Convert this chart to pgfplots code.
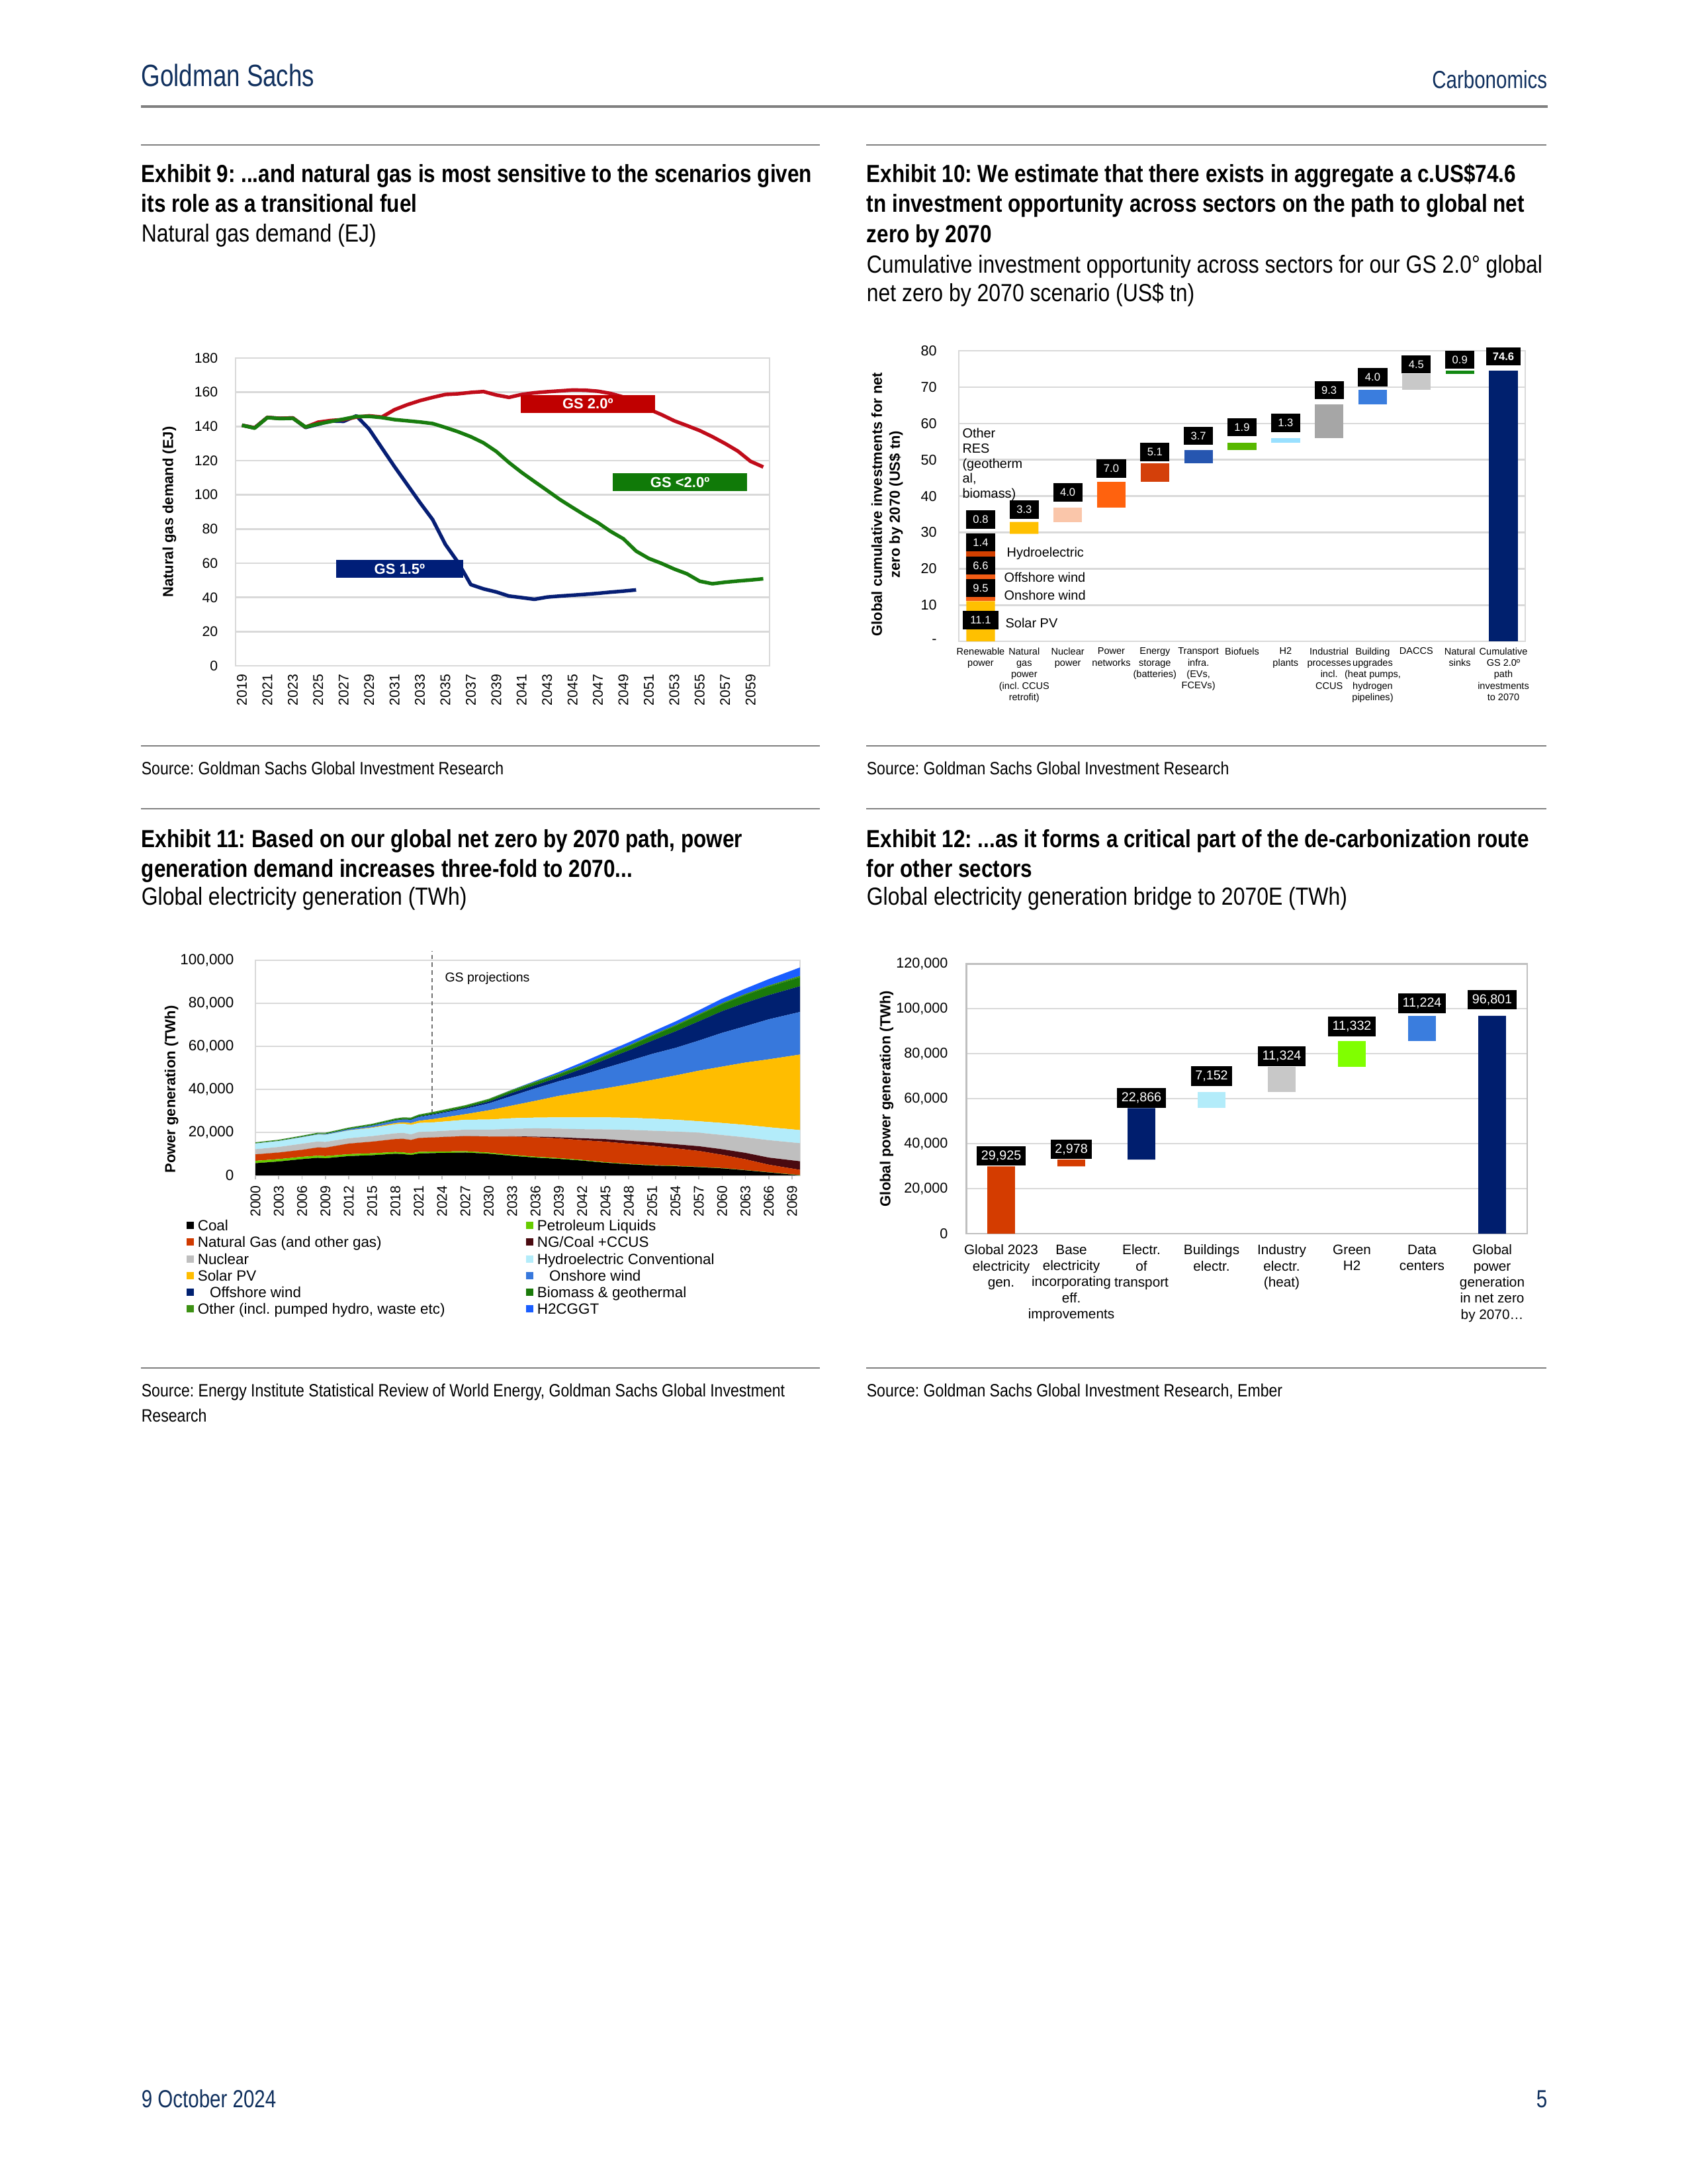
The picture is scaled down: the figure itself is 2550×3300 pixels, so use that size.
\documentclass[border=0pt]{standalone}
\usepackage{fontspec}
\setmainfont{Liberation Sans}
\newfontfamily\gsfont{Liberation Sans}[FakeStretch=0.855]
\newfontfamily\gsbfont{Liberation Sans}[FakeStretch=0.843]
\newfontfamily\hdfont{Liberation Sans}[FakeStretch=0.79]
\usepackage{pgfplots}
\usepackage{pgfplotstable}
\pgfplotsset{compat=1.18}
\frenchspacing

\definecolor{gsnavy}{RGB}{16,48,94}
\definecolor{rulec}{RGB}{128,128,128}
\definecolor{gridc}{RGB}{217,217,217}
\definecolor{framec}{RGB}{191,191,191}
% exhibit 9
\definecolor{redA}{RGB}{192,12,26}
\definecolor{greenA}{RGB}{24,124,14}
\definecolor{blueA}{RGB}{6,30,116}
\definecolor{redbox}{RGB}{192,0,0}
\definecolor{greenbox}{RGB}{16,122,8}
\definecolor{bluebox}{RGB}{0,30,120}
% exhibit 10
\definecolor{solc}{RGB}{255,192,0}
\definecolor{onwc}{RGB}{242,92,20}
\definecolor{offwc}{RGB}{210,64,0}
\definecolor{hydc}{RGB}{200,60,10}
\definecolor{oresc}{RGB}{230,110,40}
\definecolor{nucc}{RGB}{250,198,170}
\definecolor{pnetc}{RGB}{255,98,14}
\definecolor{storc}{RGB}{212,64,10}
\definecolor{transc}{RGB}{38,86,176}
\definecolor{biofc}{RGB}{88,184,0}
\definecolor{htwoc}{RGB}{153,224,255}
\definecolor{indc}{RGB}{166,166,166}
\definecolor{bldc}{RGB}{58,125,222}
\definecolor{dacc}{RGB}{200,200,200}
\definecolor{sinkc}{RGB}{17,136,17}
\definecolor{cumc}{RGB}{0,32,110}
% exhibit 11
\definecolor{coalc}{RGB}{0,0,0}
\definecolor{petc}{RGB}{102,204,0}
\definecolor{gasc}{RGB}{208,58,0}
\definecolor{ccusc}{RGB}{74,10,16}
\definecolor{nuclc}{RGB}{191,191,191}
\definecolor{hydroc}{RGB}{179,236,250}
\definecolor{solarc}{RGB}{255,189,0}
\definecolor{onshc}{RGB}{55,120,220}
\definecolor{offshc}{RGB}{0,32,112}
\definecolor{bioc}{RGB}{26,122,10}
\definecolor{othc}{RGB}{61,145,20}
\definecolor{htwogc}{RGB}{26,94,255}
% exhibit 12
\definecolor{brorg}{RGB}{212,60,0}
\definecolor{brnavy}{RGB}{0,30,110}
\definecolor{brcyan}{RGB}{179,236,250}
\definecolor{brgrey}{RGB}{200,200,200}
\definecolor{brlime}{RGB}{128,255,0}
\definecolor{brblue}{RGB}{58,125,222}

% Exhibit 9: natural gas demand (EJ)
\pgfplotstableread{
year gsa gsb gsc
2019 140.7 140.7 140.7
2020 139.2 139.2 139.0
2021 145.3 145.3 145.2
2022 144.7 144.7 144.6
2023 145.0 145.0 144.8
2024 139.4 139.6 139.7
2025 141.3 142.5 141.5
2026 143.2 143.5 142.9
2027 143.0 144.0 144.3
2028 146.2 145.5 145.8
2029 138.5 146.2 145.9
2030 127.5 145.5 145.2
2031 116.5 149.8 144.0
2032 106.0 152.7 143.3
2033 95.5 155.1 142.6
2034 85.5 157.0 141.7
2035 71.0 158.7 139.4
2036 60.5 159.1 136.9
2037 47.5 159.9 134.0
2038 45.0 160.4 130.4
2039 43.2 158.4 125.4
2040 40.8 157.0 118.9
2041 39.9 158.7 113.1
2042 38.9 159.7 107.8
2043 40.2 160.3 102.6
2044 40.8 160.8 97.3
2045 41.3 161.3 92.6
2046 41.8 161.2 88.0
2047 42.4 160.6 83.7
2048 43.1 159.3 78.6
2049 43.7 157.2 74.3
2050 44.4 154.5 67.1
2051 nan 150.1 62.8
2052 nan 146.9 59.9
2053 nan 143.3 56.6
2054 nan 140.5 53.8
2055 nan 137.6 49.5
2056 nan 134.0 48.0
2057 nan 130.0 48.9
2058 nan 125.6 49.6
2059 nan 119.6 50.2
2060 nan 116.3 50.9
}\gasdemand

% Exhibit 10: waterfall (US$ tn), base = invisible offset
\pgfplotstableread{
cat base yel onw offw hyd ores nuc pnet stor trans biof htwo ind bld dac sink cum
0 0 11.1 9.5 6.6 1.4 0.8 0 0 0 0 0 0 0 0 0 0 0
1 29.6 3.3 0 0 0 0 0 0 0 0 0 0 0 0 0 0 0
2 32.9 0 0 0 0 0 4.0 0 0 0 0 0 0 0 0 0 0
3 36.9 0 0 0 0 0 0 7.0 0 0 0 0 0 0 0 0 0
4 43.9 0 0 0 0 0 0 0 5.1 0 0 0 0 0 0 0 0
5 49.0 0 0 0 0 0 0 0 0 3.7 0 0 0 0 0 0 0
6 52.7 0 0 0 0 0 0 0 0 0 1.9 0 0 0 0 0 0
7 54.6 0 0 0 0 0 0 0 0 0 0 1.3 0 0 0 0 0
8 55.9 0 0 0 0 0 0 0 0 0 0 0 9.3 0 0 0 0
9 65.2 0 0 0 0 0 0 0 0 0 0 0 0 4.0 0 0 0
10 69.2 0 0 0 0 0 0 0 0 0 0 0 0 0 4.5 0 0
11 73.7 0 0 0 0 0 0 0 0 0 0 0 0 0 0 0.9 0
12 0 0 0 0 0 0 0 0 0 0 0 0 0 0 0 0 74.6
}\invest

% Exhibit 11: generation by source (TWh)
\pgfplotstableread{
year coal pet gas ccus nuc hyd sol onw off bio oth htwo
2000 5700 1100 3000 0 2400 2650 0 30 0 220 300 0
2003 6500 1100 3050 0 2600 2750 0 60 0 240 300 0
2006 7600 1050 3250 0 2850 3000 10 140 0 300 300 0
2008 8200 1000 3800 0 2800 3200 20 180 0 350 300 0
2009 8000 1000 3900 0 2700 3300 20 280 10 340 300 0
2012 9000 900 4900 0 2500 3600 100 500 20 430 300 0
2015 9400 900 5400 0 2600 3800 250 800 50 500 300 0
2018 10100 800 6000 0 2700 4200 550 1150 70 630 300 0
2019 9900 800 6300 0 2800 4200 700 1250 100 650 300 0
2020 9500 750 6250 0 2600 4400 850 1450 100 700 300 0
2021 10200 750 6450 0 2800 4200 1000 1700 200 700 300 0
2023 10400 700 6600 0 2800 4200 1600 2000 300 700 350 0
2027 10650 600 7050 0 3000 4600 2600 2500 500 800 350 0
2030 10100 500 7500 0 3200 4700 4300 3200 850 900 350 0
2033 9100 450 8550 100 3500 4900 5900 4500 1400 1000 400 100
2036 8300 400 9050 300 3850 5000 7800 5800 1500 1200 400 400
2039 7700 350 9150 550 4000 5250 10000 6800 1800 1300 400 800
2042 6900 300 9200 900 4200 5500 11800 7900 2900 1400 400 1200
2045 5900 250 9550 1200 4500 5600 13500 9500 3900 1600 400 1400
2048 5200 200 9300 1400 5100 5600 15600 10800 4950 1900 400 1450
2051 4600 200 9000 1600 5400 5600 18000 12100 6150 2200 450 1500
2054 4300 200 8100 1900 5900 5500 20600 12800 7700 2500 450 1650
2057 3850 150 7400 2200 6300 5300 23500 14000 8950 2900 450 1800
2060 3300 150 6150 2600 6600 5600 26200 15700 10100 3200 500 2100
2063 2400 100 5000 3000 7200 5800 29000 16900 10900 3600 500 2500
2066 1400 100 3500 3300 8100 6000 31600 18600 11250 3900 550 3000
2070 50 150 2400 4000 8400 6100 35100 19800 12000 4100 700 3900
}\elec

% Exhibit 12: bridge to 2070E (TWh)
\pgfplotstableread{
cat base org navy cyan grey lime blue
0 0 29925 0 0 0 0 0
1 29925 2978 0 0 0 0 0
2 32903 0 22866 0 0 0 0
3 55769 0 0 7152 0 0 0
4 62921 0 0 0 11324 0 0
5 74245 0 0 0 0 11332 0
6 85577 0 0 0 0 0 11224
7 0 0 96801 0 0 0 0
}\bridge

\tikzset{
  ttl/.style={anchor=base west, inner sep=0, font=\gsbfont\bfseries\fontsize{9}{10.8}\selectfont},
  sub/.style={anchor=base west, inner sep=0, font=\gsfont\fontsize{9}{10.8}\selectfont},
  src/.style={anchor=base west, inner sep=0, font=\gsfont\fontsize{6.5}{8}\selectfont},
  rl/.style={rulec, line width=0.5bp},
  lbl/.style={fill=black, text=white, anchor=south, inner sep=0.4bp,
    minimum height=6.6bp, minimum width=10.6bp, font=\fontsize{4}{4}\selectfont},
  lbw/.style={fill=black, text=white, anchor=south, inner xsep=1.6bp, inner ysep=0pt,
    minimum height=7.1bp, font=\fontsize{4.75}{5}\selectfont},
  gsbox/.style={text=white, minimum height=6.5bp, inner sep=0pt,
    font=\bfseries\fontsize{5.3}{6}\selectfont},
  ann/.style={anchor=west, inner sep=0pt, font=\fontsize{4.8}{5.5}\selectfont},
}
\newcommand{\legitem}[4]{%
  \fill[#3] (#1,#2-5.5) rectangle (#1+11,#2+5.5);
  \node[anchor=base west, inner sep=0pt, font=\fontsize{5.4}{6}\selectfont] at (#1+16,#2+8) {#4};}

\begin{document}
\begin{tikzpicture}
% page frame in 300 dpi pixels, origin top left
\begin{scope}[x=0.24bp, y=-0.24bp]
\fill[white] (0,0) rectangle (2550,3300);
\path[use as bounding box] (0,0) rectangle (2550,3300);

% page header and footer
\node[anchor=base west, inner sep=0, text=gsnavy, font=\hdfont\fontsize{11.2}{13}\selectfont] at (213,130) {Goldman Sachs};
\node[anchor=base east, inner sep=0, text=gsnavy, font=\hdfont\fontsize{9}{11}\selectfont] at (2339,133) {Carbonomics};
\draw[rulec, line width=0.8bp] (213,161) -- (2339,161);
\node[anchor=base west, inner sep=0, text=gsnavy, font=\hdfont\fontsize{9}{11}\selectfont] at (213,3184) {9 October 2024};
\node[anchor=base east, inner sep=0, text=gsnavy, font=\hdfont\fontsize{9}{11}\selectfont] at (2339,3184) {5};

% titles, top row
\draw[rl] (213,219) -- (1239,219);
\draw[rl] (1309,219) -- (2337,219);
\node[ttl] at (213,275) {Exhibit 9: ...and natural gas is most sensitive to the scenarios given};
\node[ttl] at (213,320) {its role as a transitional fuel};
\node[sub] at (213,365) {Natural gas demand (EJ)};
\node[ttl] at (1309,275) {Exhibit 10: We estimate that there exists in aggregate a c.US\$74.6};
\node[ttl] at (1309,320) {tn investment opportunity across sectors on the path to global net};
\node[ttl] at (1309,366) {zero by 2070};
\node[sub] at (1309,412) {Cumulative investment opportunity across sectors for our GS 2.0° global};
\node[sub] at (1309,455) {net zero by 2070 scenario (US\$ tn)};
\draw[rl] (213,1127) -- (1239,1127);
\draw[rl] (1309,1127) -- (2337,1127);
\node[src] at (213,1170) {Source: Goldman Sachs Global Investment Research};
\node[src] at (1309,1170) {Source: Goldman Sachs Global Investment Research};

% titles, bottom row
\draw[rl] (213,1222) -- (1239,1222);
\draw[rl] (1309,1222) -- (2337,1222);
\node[ttl] at (213,1280) {Exhibit 11: Based on our global net zero by 2070 path, power};
\node[ttl] at (213,1325) {generation demand increases three-fold to 2070...};
\node[sub] at (213,1367) {Global electricity generation (TWh)};
\node[ttl] at (1309,1280) {Exhibit 12: ...as it forms a critical part of the de-carbonization route};
\node[ttl] at (1309,1325) {for other sectors};
\node[sub] at (1309,1367) {Global electricity generation bridge to 2070E (TWh)};
\draw[rl] (213,2067) -- (1239,2067);
\draw[rl] (1309,2067) -- (2337,2067);
\node[src] at (213,2110) {Source: Energy Institute Statistical Review of World Energy, Goldman Sachs Global Investment};
\node[src] at (213,2148) {Research};
\node[src] at (1309,2110) {Source: Goldman Sachs Global Investment Research, Ember};

% legend of exhibit 11
\legitem{282}{1851}{coalc}{Coal}
\legitem{795}{1851}{petc}{Petroleum Liquids}
\legitem{282}{1876.5}{gasc}{Natural Gas (and other gas)}
\legitem{795}{1876.5}{ccusc}{NG/Coal +CCUS}
\legitem{282}{1902}{nuclc}{Nuclear}
\legitem{795}{1902}{hydroc}{Hydroelectric Conventional}
\legitem{282}{1927.7}{solarc}{Solar PV}
\legitem{795}{1927.7}{onshc}{\hspace{4.4bp}Onshore wind}
\legitem{282}{1952.7}{offshc}{\hspace{4.4bp}Offshore wind}
\legitem{795}{1952.7}{bioc}{Biomass \& geothermal}
\legitem{282}{1977.7}{othc}{Other (incl. pumped hydro, waste etc)}
\legitem{795}{1977.7}{htwogc}{H2CGGT}
\end{scope}

% ---------------- Exhibit 9 ----------------
\begin{axis}[at={(85.44bp,-129.84bp)}, anchor=north west, scale only axis,
  width=193.7bp, height=111.6bp,
  xmin=2018.5, xmax=2060.5, ymin=0, ymax=180, enlargelimits=false,
  xtick={2019,2021,...,2059},
  xticklabels={2019,2021,2023,2025,2027,2029,2031,2033,2035,2037,2039,2041,2043,2045,2047,2049,2051,2053,2055,2057,2059},
  ytick={0,20,...,180},
  yticklabels={0,20,40,60,80,100,120,140,160,180},
  major tick length=0pt,
  axis line style={draw=gridc, line width=0.6bp},
  ymajorgrids, grid style={draw=gridc, line width=0.6bp},
  tick label style={font=\fontsize{5.1}{6}\selectfont},
  xticklabel style={rotate=90, anchor=east},
  xticklabel shift=-0.4bp, yticklabel shift=2.9bp,
  every axis y label/.style={at={(axis description cs:-0.124,0.5)}, rotate=90,
    anchor=center, font=\bfseries\fontsize{5.3}{6}\selectfont},
  ylabel={Natural gas demand (EJ)},
  clip=false]
\addplot[blueA, line width=1.3bp, line join=round] table[x=year, y=gsa] {\gasdemand};
\addplot[redA, line width=1.3bp, line join=round] table[x=year, y=gsb] {\gasdemand};
\addplot[greenA, line width=1.3bp, line join=round] table[x=year, y=gsc] {\gasdemand};
\node[gsbox, fill=redbox, minimum width=48.6bp] at (axis cs:2046.2,153.2) {GS 2.0º};
\node[gsbox, fill=greenbox, minimum width=48.6bp] at (axis cs:2053.45,107.4) {GS <2.0º};
\node[gsbox, fill=bluebox, minimum width=46bp] at (axis cs:2031.4,56.6) {GS 1.5º};
\end{axis}

% ---------------- Exhibit 10 ----------------
\begin{axis}[at={(347.76bp,-127.2bp)}, anchor=north west, scale only axis,
  width=205.4bp, height=105.4bp,
  ybar stacked, bar width=10.4bp,
  xmin=-0.5, xmax=12.5, ymin=0, ymax=80, enlargelimits=false,
  xtick={0,...,12},
  xticklabels={{Renewable\\power},{Natural\\gas\\power\\(incl. CCUS\\retrofit)},{Nuclear\\power},
    {Power\\networks},{Energy\\storage\\(batteries)},{Transport\\infra.\\(EVs,\\FCEVs)},{Biofuels},
    {H2\\plants},{Industrial\\processes\\incl.\\CCUS},{Building\\upgrades\\(heat pumps,\\hydrogen\\pipelines)},
    {DACCS},{Natural\\sinks},{Cumulative\\GS 2.0º\\path\\investments\\to 2070}},
  ytick={0,10,...,80},
  yticklabels={-,10,20,30,40,50,60,70,80},
  major tick length=0pt,
  axis line style={draw=gridc, line width=0.6bp},
  ymajorgrids, grid style={draw=gridc, line width=0.6bp},
  yticklabel style={font=\fontsize{5.2}{6}\selectfont},
  xticklabel style={align=center, anchor=north, font=\fontsize{3.5}{4.15}\selectfont},
  xticklabel shift=-1.2bp, yticklabel shift=4.5bp,
  every axis y label/.style={at={(axis description cs:-0.1267,0.4715)}, rotate=90,
    anchor=center, align=center, font=\bfseries\fontsize{5.3}{6.5}\selectfont},
  ylabel={Global cumulative investments for net\\zero by 2070 (US\$ tn)},
  clip=false]
\addplot[draw=none, fill=none] table[x=cat, y=base] {\invest};
\addplot[draw=none, fill=solc] table[x=cat, y=yel] {\invest};
\addplot[draw=none, fill=onwc] table[x=cat, y=onw] {\invest};
\addplot[draw=none, fill=offwc] table[x=cat, y=offw] {\invest};
\addplot[draw=none, fill=hydc] table[x=cat, y=hyd] {\invest};
\addplot[draw=none, fill=oresc] table[x=cat, y=ores] {\invest};
\addplot[draw=none, fill=nucc] table[x=cat, y=nuc] {\invest};
\addplot[draw=none, fill=pnetc] table[x=cat, y=pnet] {\invest};
\addplot[draw=none, fill=storc] table[x=cat, y=stor] {\invest};
\addplot[draw=none, fill=transc] table[x=cat, y=trans] {\invest};
\addplot[draw=none, fill=biofc] table[x=cat, y=biof] {\invest};
\addplot[draw=none, fill=htwoc] table[x=cat, y=htwo] {\invest};
\addplot[draw=none, fill=indc] table[x=cat, y=ind] {\invest};
\addplot[draw=none, fill=bldc] table[x=cat, y=bld] {\invest};
\addplot[draw=none, fill=dacc] table[x=cat, y=dac] {\invest};
\addplot[draw=none, fill=sinkc] table[x=cat, y=sink] {\invest};
\addplot[draw=none, fill=cumc] table[x=cat, y=cum] {\invest};
% anchor points for the data labels (drawn after the axis, above the bars)
\coordinate (r1) at (axis cs:0,3.2);
\coordinate (r2) at (axis cs:0,12.0);
\coordinate (r3) at (axis cs:0,18.2);
\coordinate (r4) at (axis cs:0,24.6);
\coordinate (r5) at (axis cs:0,30.9);
\coordinate (c1) at (axis cs:1,33.6);
\coordinate (c2) at (axis cs:2,38.4);
\coordinate (c3) at (axis cs:3,44.9);
\coordinate (c4) at (axis cs:4,49.5);
\coordinate (c5) at (axis cs:5,53.9);
\coordinate (c6) at (axis cs:6,56.3);
\coordinate (c7) at (axis cs:7,57.5);
\coordinate (c8) at (axis cs:8,66.5);
\coordinate (c9) at (axis cs:9,70.1);
\coordinate (c10) at (axis cs:10,73.6);
\coordinate (c11) at (axis cs:11,74.9);
\coordinate (c12) at (axis cs:12,75.8);
% annotations
\node[ann] at (axis cs:0.59,24.2) {Hydroelectric};
\node[ann] at (axis cs:0.53,17.7) {Offshore wind};
\node[ann] at (axis cs:0.53,12.7) {Onshore wind};
\node[ann] at (axis cs:0.56,5.1) {Solar PV};
\node[ann, align=left] at (axis cs:-0.43,48.7) {Other\\RES\\(geotherm\\al,\\biomass)};
\end{axis}
\node[lbl, minimum width=13bp] at (r1) {11.1};
\node[lbl] at (r2) {9.5};
\node[lbl] at (r3) {6.6};
\node[lbl] at (r4) {1.4};
\node[lbl] at (r5) {0.8};
\node[lbl] at (c1) {3.3};
\node[lbl] at (c2) {4.0};
\node[lbl] at (c3) {7.0};
\node[lbl] at (c4) {5.1};
\node[lbl] at (c5) {3.7};
\node[lbl] at (c6) {1.9};
\node[lbl] at (c7) {1.3};
\node[lbl] at (c8) {9.3};
\node[lbl] at (c9) {4.0};
\node[lbl] at (c10) {4.5};
\node[lbl] at (c11) {0.9};
\node[lbl, minimum width=12.6bp, font=\bfseries\fontsize{4}{4}\selectfont] at (c12) {74.6};

% ---------------- Exhibit 11 ----------------
\begin{axis}[at={(92.64bp,-348.24bp)}, anchor=north west, scale only axis,
  width=197.5bp, height=78bp,
  stack plots=y,
  xmin=2000, xmax=2070, ymin=0, ymax=100000, enlargelimits=false,
  scaled y ticks=false,
  xtick={2000,2003,...,2069},
  xticklabels={2000,2003,2006,2009,2012,2015,2018,2021,2024,2027,2030,2033,2036,2039,2042,2045,2048,2051,2054,2057,2060,2063,2066,2069},
  minor x tick num=2,
  xtick pos=bottom,
  ytick={0,20000,...,100000},
  yticklabels={0,{20,000},{40,000},{60,000},{80,000},{100,000}},
  tick align=outside,
  major tick length=1.4bp, minor tick length=1.4bp,
  xtick style={draw=framec, line width=0.4bp},
  minor x tick style={draw=framec, line width=0.4bp},
  ytick style={draw=none},
  axis line style={draw=gridc, line width=0.6bp},
  ymajorgrids, grid style={draw=gridc, line width=0.6bp},
  yticklabel style={font=\fontsize{5.4}{6}\selectfont},
  xticklabel style={rotate=90, anchor=east, font=\fontsize{5.1}{6}\selectfont},
  xticklabel shift=-1.2bp, yticklabel shift=2.9bp,
  every axis y label/.style={at={(axis description cs:-0.154,0.4)}, rotate=90,
    anchor=center, font=\bfseries\fontsize{5.3}{6}\selectfont},
  ylabel={Power generation (TWh)},
  clip=false]
\addplot[draw=none, fill=coalc] table[x=year, y=coal] {\elec} \closedcycle;
\addplot[draw=none, fill=petc] table[x=year, y=pet] {\elec} \closedcycle;
\addplot[draw=none, fill=gasc] table[x=year, y=gas] {\elec} \closedcycle;
\addplot[draw=none, fill=ccusc] table[x=year, y=ccus] {\elec} \closedcycle;
\addplot[draw=none, fill=nuclc] table[x=year, y=nuc] {\elec} \closedcycle;
\addplot[draw=none, fill=hydroc] table[x=year, y=hyd] {\elec} \closedcycle;
\addplot[draw=none, fill=solarc] table[x=year, y=sol] {\elec} \closedcycle;
\addplot[draw=none, fill=onshc] table[x=year, y=onw] {\elec} \closedcycle;
\addplot[draw=none, fill=offshc] table[x=year, y=off] {\elec} \closedcycle;
\addplot[draw=none, fill=bioc] table[x=year, y=bio] {\elec} \closedcycle;
\addplot[draw=none, fill=othc] table[x=year, y=oth] {\elec} \closedcycle;
\addplot[draw=none, fill=htwogc] table[x=year, y=htwo] {\elec} \closedcycle;
\draw[black!55, line width=0.4bp, dash pattern=on 1.6bp off 1.2bp] (axis cs:2022.7,0) -- (axis cs:2022.7,104300);
\node[anchor=west, inner sep=0pt, font=\fontsize{4.7}{5}\selectfont] at (axis cs:2024.3,91700) {GS projections};
\end{axis}

% ---------------- Exhibit 12 ----------------
\begin{axis}[at={(350.4bp,-349.44bp)}, anchor=north west, scale only axis,
  width=203.5bp, height=97.9bp,
  ybar stacked, bar width=10bp,
  xmin=-0.5, xmax=7.5, ymin=0, ymax=120000, enlargelimits=false,
  scaled y ticks=false,
  xtick={0,...,7},
  xticklabels={{Global 2023\\electricity\\gen.},{Base\\electricity\\incorporating\\eff.\\improvements},
    {Electr.\\of\\transport},{Buildings\\electr.},{Industry\\electr.\\(heat)},{Green\\H2},
    {Data\\centers},{Global\\power\\generation\\in net zero\\by 2070…}},
  ytick={0,20000,...,120000},
  yticklabels={0,{20,000},{40,000},{60,000},{80,000},{100,000},{120,000}},
  major tick length=0pt,
  axis line style={draw=framec, line width=0.7bp},
  ymajorgrids, grid style={draw=gridc, line width=0.6bp},
  yticklabel style={font=\fontsize{5.2}{6}\selectfont},
  xticklabel style={align=center, anchor=north, font=\fontsize{5}{5.86}\selectfont},
  xticklabel shift=0.5bp, yticklabel shift=3.1bp,
  every axis y label/.style={at={(axis description cs:-0.1415,0.5)}, rotate=90,
    anchor=center, font=\bfseries\fontsize{5.3}{6}\selectfont},
  ylabel={Global power generation (TWh)},
  clip=false]
\addplot[draw=none, fill=none] table[x=cat, y=base] {\bridge};
\addplot[draw=none, fill=brorg] table[x=cat, y=org] {\bridge};
\addplot[draw=none, fill=brnavy] table[x=cat, y=navy] {\bridge};
\addplot[draw=none, fill=brcyan] table[x=cat, y=cyan] {\bridge};
\addplot[draw=none, fill=brgrey] table[x=cat, y=grey] {\bridge};
\addplot[draw=none, fill=brlime] table[x=cat, y=lime] {\bridge};
\addplot[draw=none, fill=brblue] table[x=cat, y=blue] {\bridge};
\node[lbw] at (axis cs:0,29925) {29,925};
\node[lbw] at (axis cs:1,32903) {2,978};
\node[lbw] at (axis cs:2,55769) {22,866};
\node[lbw] at (axis cs:3,65430) {7,152};
\node[lbw] at (axis cs:4,74245) {11,324};
\node[lbw] at (axis cs:5,87400) {11,332};
\node[lbw] at (axis cs:6,97800) {11,224};
\node[lbw] at (axis cs:7,99400) {96,801};
\end{axis}
\end{tikzpicture}
\end{document}
